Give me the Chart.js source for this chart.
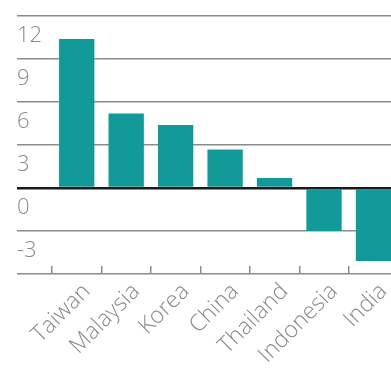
<!DOCTYPE html>
<html>
<head>
<meta charset="utf-8">
<script src="https://cdn.jsdelivr.net/npm/chart.js@4/dist/chart.umd.min.js"></script>
<style>
    html, body { margin: 0; padding: 0; background: #fff; overflow: hidden; }
    #wrap { position: relative; width: 405px; height: 369px; }
</style>
</head>
<body>
<div id="wrap"><canvas id="chart"></canvas></div>
<script>
// Chart data
const countries = ['Taiwan', 'Malaysia', 'Korea', 'China', 'Thailand', 'Indonesia', 'India'];
const values = [10.4, 5.2, 4.4, 2.7, 0.7, -3.0, -5.1];
const yTicks = [-6, -3, 0, 3, 6, 9, 12];

const barColor = '#129a98';
const gridColor = '#8c8c8c';
const labelColor = '#8a8a8a';

const ctx = document.getElementById('chart').getContext('2d');

const chart = new Chart(ctx, {
    type: 'bar',
    data: {
        labels: countries,
        datasets: [{
            data: values,
            backgroundColor: barColor,
            borderWidth: 0,
            barPercentage: 0.714,
            categoryPercentage: 1.0
        }]
    },
    options: {
        responsive: true,
        maintainAspectRatio: false,
        animation: false,
        layout: {
            padding: { left: 17, top: 13, right: 0, bottom: 0 }
        },
        plugins: {
            legend: { display: false },
            tooltip: { enabled: false }
        },
        scales: {
            x: {
                border: { display: false },
                grid: {
                    display: true,
                    drawOnChartArea: false,
                    drawTicks: true,
                    tickLength: -8,
                    color: gridColor,
                    lineWidth: 1.5,
                    offset: true
                },
                ticks: {
                    autoSkip: false,
                    minRotation: 45,
                    maxRotation: 45,
                    padding: 12,
                    labelOffset: 10,
                    color: labelColor,
                    font: { family: '"Open Sans", sans-serif', size: 23, weight: 300 }
                },
                afterFit: scale => { scale.height = 95; }
            },
            y: {
                min: yTicks[0],
                max: yTicks[yTicks.length - 1],
                border: { display: false },
                afterBuildTicks: scale => {
                    scale.ticks = yTicks.map(v => ({ value: v }));
                },
                grid: {
                    color: c => c.tick && c.tick.value === 0 ? '#1a1a1a' : gridColor,
                    tickColor: c => c.tick && c.tick.value === 0 ? '#1a1a1a' : gridColor,
                    lineWidth: c => c.tick && c.tick.value === 0 ? 2.5 : 1.5,
                    tickLength: 35
                },
                ticks: {
                    crossAlign: 'far',
                    labelOffset: 20,
                    color: labelColor,
                    font: { family: '"Open Sans", sans-serif', size: 22, weight: 300 },
                    callback: v => (v === yTicks[0] ? '' : String(v))
                },
                afterFit: scale => { scale.width = 35; }
            }
        }
    }
});
</script>
</body>
</html>
